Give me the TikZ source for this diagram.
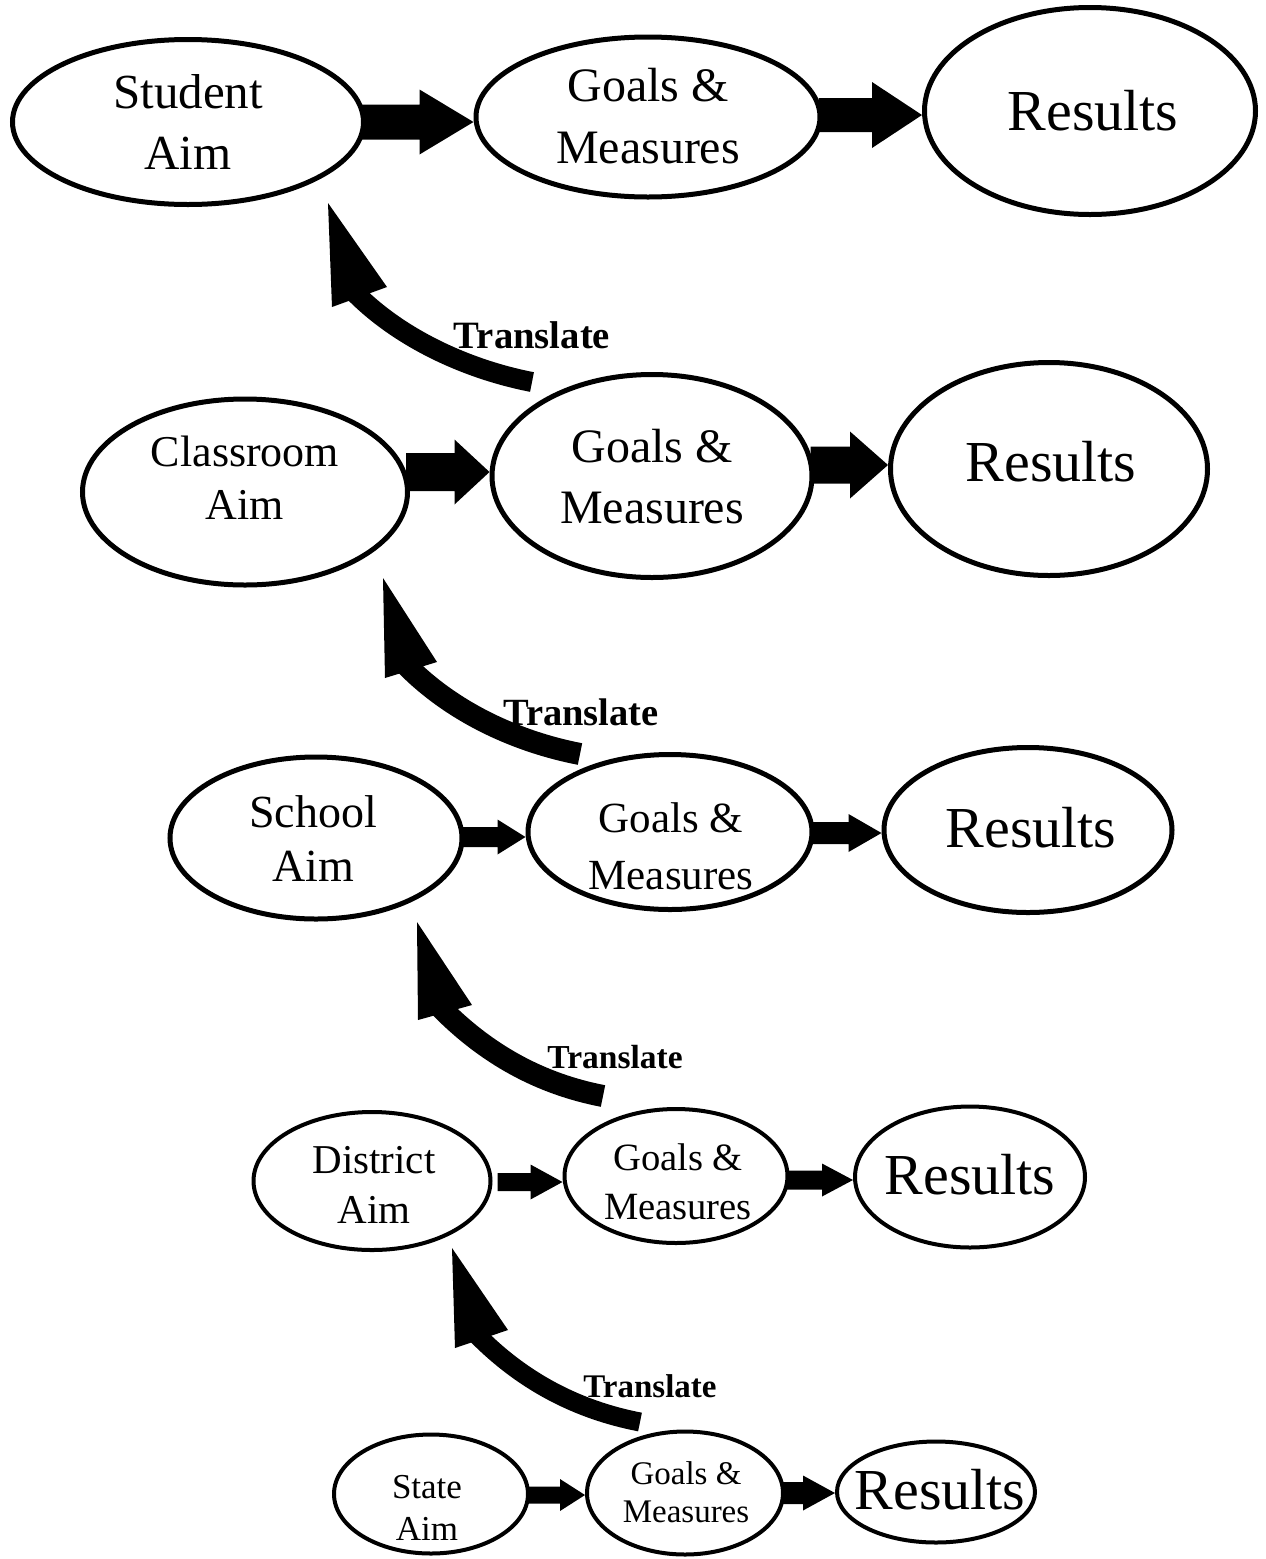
\documentclass[tikz,border=0pt]{standalone}
\usepackage{fontspec}
\setmainfont{Liberation Serif}
\usetikzlibrary{shapes.geometric,calc}

\tikzset{
  oval/.style={draw, ellipse, line width=5pt, inner sep=0pt},
  small oval/.style={oval, line width=4pt},
  oval text/.style={inner sep=0pt, align=center},
  translate text/.style={inner sep=0pt, anchor=base,
    font=\bfseries\fontsize{#1}{#1}\selectfont},
  bent shaft/.style={line width=#1, line cap=butt, shorten >=-8pt}
}

% size / line spacing shortcut
\newcommand\fsz[2]{\fontsize{#1}{#2}\selectfont}

% horizontal block arrow between two ovals
% #1 source, #2 target, #3 shaft half height, #4 head half height,
% #5 head length, #6 vertical offset of the tip, #7 shift of the tail
\newcommand\blockarrow[7]{%
  \path (#1.east |- #2.west) coordinate (ba-s);
  \fill ($(ba-s)+(#7,#6-#3)$) -- ($(#2.west)+(-#5,#6-#3)$)
     -- ($(#2.west)+(-#5,#6-#4)$) -- ($(#2.west)+(0,#6)$)
     -- ($(#2.west)+(-#5,#6+#4)$) -- ($(#2.west)+(-#5,#6+#3)$)
     -- ($(ba-s)+(#7,#6+#3)$) -- cycle;
}

% curved "Translate" arrow: #1 tail end, #2 head base middle,
% #3 head base left, #4 head base right, #5 tip, #6 shaft width
\newcommand\bentarrow[6]{%
  \draw[bent shaft=#6] (#1) .. controls ($(#1)+(-62,-12)$)
     and ($(#2)+(42,43)$) .. (#2);
  \fill (#3) -- (#5) -- (#4) -- cycle;
}

\begin{document}
\begin{tikzpicture}[x=1pt,y=-1pt]
\fill[white] (0,0) rectangle (1266,1559);
\useasboundingbox (0,0) rectangle (1266,1559);

% ---- student level ----
\node[oval, minimum width=351pt, minimum height=165pt] (sa) at (188,122) {};
\node[oval, minimum width=344pt, minimum height=160pt] (gm1) at (648,117) {};
\node[oval, minimum width=331pt, minimum height=207pt] (rs1) at (1090,111) {};
\node[oval text, font=\fsz{49pt}{61pt}] (sa-t) at (188,122) {Student\\Aim};
\node[oval text, font=\fsz{48pt}{62pt}] (gm1-t) at (648,116) {Goals \&\\Measures};
\node[oval text, font=\fsz{58pt}{60pt}] (rs1-t) at (1093,111) {Results};

% ---- classroom level ----
\node[oval, minimum width=325pt, minimum height=186pt] (cl) at (245,492) {};
\node[oval, minimum width=320pt, minimum height=203pt] (gm2) at (652,476) {};
\node[oval, minimum width=317pt, minimum height=213pt] (rs2) at (1049,469) {};
\node[oval text, font=\fsz{44pt}{53pt}] (cl-t) at (245,478) {Classroom\\Aim};
\node[oval text, font=\fsz{48pt}{61pt}] (gm2-t) at (652,477) {Goals \&\\Measures};
\node[oval text, font=\fsz{58pt}{60pt}] (rs2-t) at (1051,462) {Results};

% ---- school level ----
\node[oval, minimum width=292pt, minimum height=162pt] (sc) at (316,838) {};
\node[oval, minimum width=284pt, minimum height=155pt] (gm3) at (670,832) {};
\node[oval, minimum width=288pt, minimum height=165pt] (rs3) at (1028,830) {};
\node[oval text, font=\fsz{46pt}{54pt}] (sc-t) at (313,839) {School\\Aim};
\node[oval text, font=\fsz{43pt}{57pt}] (gm3-t) at (671,846) {Goals \&\\Measures};
\node[oval text, font=\fsz{58pt}{60pt}] (rs3-t) at (1031,828) {Results};

% ---- district level ----
\node[small oval, minimum width=237pt, minimum height=138pt] (di) at (372,1181) {};
\node[small oval, minimum width=223pt, minimum height=134pt] (gm4) at (676,1176) {};
\node[small oval, minimum width=230pt, minimum height=141pt] (rs4) at (970,1177) {};
\node[oval text, font=\fsz{41pt}{50pt}] (di-t) at (374,1185) {District\\Aim};
\node[oval text, font=\fsz{38.6pt}{49pt}] (gm4-t) at (678,1182) {Goals \&\\Measures};
\node[oval text, font=\fsz{58pt}{60pt}] (rs4-t) at (970,1175) {Results};

% ---- state level ----
\node[small oval, minimum width=194pt, minimum height=119pt] (st) at (431,1494) {};
\node[small oval, minimum width=196pt, minimum height=123pt] (gm5) at (685,1493) {};
\node[small oval, minimum width=198pt, minimum height=101pt] (rs5) at (936,1492) {};
\node[oval text, font=\fsz{35pt}{42pt}] (st-t) at (427,1508) {State\\Aim};
\node[oval text, font=\fsz{33pt}{38pt}] (gm5-t) at (686,1492) {Goals \&\\Measures};
\node[oval text, font=\fsz{58pt}{60pt}] (rs5-t) at (940,1490) {Results};

% ---- block arrows along each level ----
\blockarrow{sa}{gm1}{17.5}{32.5}{54}{5}{-4}
\blockarrow{gm1}{rs1}{17}{33}{50}{4}{-4}
\blockarrow{cl}{gm2}{19}{32.5}{35}{-4}{-4}
\blockarrow{gm2}{rs2}{18.5}{33.5}{38}{-4}{-4}
\blockarrow{sc}{gm3}{10}{17.5}{28}{5}{-4}
\blockarrow{gm3}{rs3}{11}{19}{33}{3}{-4}
\blockarrow{di}{gm4}{9}{17.5}{32}{6}{5}
\blockarrow{gm4}{rs4}{9.5}{16.5}{31}{3}{-3}
\blockarrow{st}{gm5}{8.5}{16}{25}{2}{-1}
\blockarrow{gm5}{rs5}{11}{17.5}{32}{1}{-3}

% ---- translate arrows between levels ----
\coordinate (t1e) at (532,382); \coordinate (t1h) at (359,297);
\coordinate (t1l) at (332,307); \coordinate (t1r) at (387,287);
\coordinate (t1t) at (328,203);
\bentarrow{t1e}{t1h}{t1l}{t1r}{t1t}{20pt}
\node[translate text=38.7pt] (tr1) at (532,348) {Translate};

\coordinate (t2e) at (580,754); \coordinate (t2h) at (411,670);
\coordinate (t2l) at (385,678); \coordinate (t2r) at (437,662);
\coordinate (t2t) at (383,578);
\bentarrow{t2e}{t2h}{t2l}{t2r}{t2t}{22pt}
\node[translate text=38.5pt] (tr2) at (581,725) {Translate};

\coordinate (t3e) at (603,1096); \coordinate (t3h) at (445,1012);
\coordinate (t3l) at (418,1020); \coordinate (t3r) at (472,1005);
\coordinate (t3t) at (417,922);
\bentarrow{t3e}{t3h}{t3l}{t3r}{t3t}{22pt}
\node[translate text=33.5pt] (tr3) at (615,1068) {Translate};

\coordinate (t4e) at (640,1422); \coordinate (t4h) at (481,1339);
\coordinate (t4l) at (455,1348); \coordinate (t4r) at (508,1330);
\coordinate (t4t) at (452,1248);
\bentarrow{t4e}{t4h}{t4l}{t4r}{t4t}{19pt}
\node[translate text=33pt] (tr4) at (650,1397) {Translate};
\end{tikzpicture}
\end{document}
